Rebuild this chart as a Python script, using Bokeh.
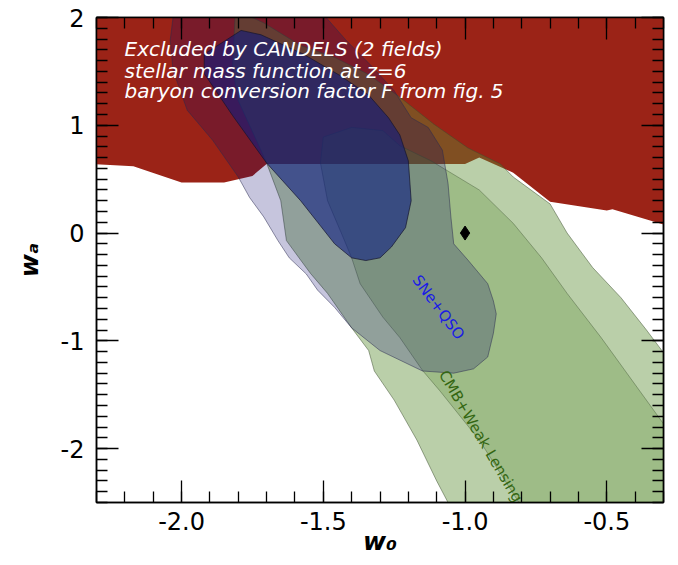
import numpy as np
from bokeh.plotting import figure
from bokeh.models import Range1d, LinearAxis, FixedTicker, Label, CustomJSTickFormatter
from bokeh.core.properties import value
from bokeh.embed import file_html
from bokeh.resources import INLINE

# ---- data (w0, wa) ----
x_major = [-2.0, -1.5, -1.0, -0.5]
y_major = [-2, -1, 0, 1, 2]
x_tick_labels = {-2.0: "-2.0", -1.5: "-1.5", -1.0: "-1.0", -0.5: "-0.5"}
y_tick_labels = {-2: "-2", -1: "-1", 0: "0", 1: "1", 2: "2"}
x_label = "w\u2080"
y_label = "w\u2090"

# excluded region (CANDELS)
red_x = [-2.40, -2.32, -2.17, -2.00, -1.85, -1.75, -1.70, -1.00, -0.95, -0.83, -0.70, -0.50, -0.48, -0.30, -0.20, -0.20, -2.40]
red_y = [0.64, 0.64, 0.62, 0.47, 0.47, 0.53, 0.64, 0.64, 0.70, 0.56, 0.29, 0.21, 0.22, 0.08, 0.02, 2.10, 2.10]

# SNe+QSO outer contour
sne2_x = [-2.03, -2.04, -2.03, -1.98, -1.89, -1.80, -1.76, -1.71, -1.66, -1.62, -1.56, -1.52, -1.46, -1.40, -1.30, -1.15,
          -1.04, -0.97, -0.92, -0.90, -0.89, -0.90, -0.92, -0.99, -1.04, -1.05, -1.06, -1.08, -1.13, -1.19, -1.25, -1.33,
          -1.42, -1.49, -1.47, -2.02]
sne2_y = [2.00, 1.79, 1.51, 1.14, 0.86, 0.52, 0.33, 0.15, -0.07, -0.23, -0.38, -0.53, -0.69, -0.88, -1.09, -1.28,
          -1.30, -1.26, -1.15, -0.93, -0.75, -0.63, -0.47, -0.25, -0.10, 0.15, 0.46, 0.77, 0.98, 1.07, 1.32, 1.55,
          1.79, 2.00, 2.10, 2.10]

# SNe+QSO inner contour
sne1_x = [-1.79, -1.72, -1.57, -1.44, -1.34, -1.27, -1.23, -1.20, -1.19, -1.21, -1.26, -1.30, -1.35, -1.40, -1.46,
          -1.52, -1.58, -1.70, -1.82, -1.92, -1.92]
sne1_y = [1.88, 1.84, 1.66, 1.46, 1.28, 1.07, 0.91, 0.67, 0.30, 0.05, -0.13, -0.23, -0.255, -0.23, -0.10,
          0.10, 0.30, 0.65, 1.09, 1.48, 1.66]

# CMB+Weak Lensing outer contour
cmb2_x = [-1.81, -1.71, -1.58, -1.46, -1.34, -1.23, -1.11, -0.99, -0.875, -0.83, -0.70, -0.64, -0.55, -0.45, -0.36,
          -0.30, -0.15, -0.15, -1.04, -1.06, -1.10, -1.17, -1.25, -1.32, -1.34, -1.40, -1.485, -1.545, -1.58, -1.63,
          -1.65, -1.70, -1.72, -1.80, -1.82]
cmb2_y = [2.07, 1.95, 1.74, 1.63, 1.47, 1.26, 1.01, 0.79, 0.64, 0.52, 0.27, 0.00, -0.32, -0.60, -0.90,
          -1.11, -1.30, -2.70, -2.70, -2.50, -2.30, -1.92, -1.55, -1.28, -1.09, -0.88, -0.56, -0.375, -0.25, -0.07,
          0.30, 0.65, 0.77, 1.23, 1.54]

# CMB+Weak Lensing inner contour
cmb1_x = [-1.50, -1.40, -1.29, -1.23, -1.12, -0.95, -0.83, -0.73, -0.64, -0.52, -0.30, -0.15, -0.15, -0.79, -0.81,
          -0.95, -1.09, -1.15, -1.23, -1.29, -1.37, -1.40, -1.43, -1.485, -1.51]
cmb1_y = [0.89, 0.98, 0.95, 0.81, 0.67, 0.40, 0.09, -0.23, -0.56, -0.97, -1.77, -2.00, -2.70, -2.70, -2.50,
          -1.92, -1.46, -1.275, -0.97, -0.78, -0.47, -0.23, -0.04, 0.30, 0.65]

lcdm_w0 = [-1.0]
lcdm_wa = [0.0]

excl_lines = ["Excluded by CANDELS (2 fields)",
              "stellar mass function at z=6",
              "baryon conversion factor F from fig. 5"]

# ---- figure ----
p = figure(frame_width=567, frame_height=485,
           x_range=Range1d(-2.3, -0.3), y_range=Range1d(-2.5, 2.0),
           output_backend="svg", toolbar_location=None,
           min_border_left=96, min_border_right=15, min_border_top=17, min_border_bottom=63,
           background_fill_color="white", border_fill_color="white")
p.xgrid.visible = False
p.ygrid.visible = False
p.outline_line_color = "black"
p.outline_line_width = 1.5

xt = FixedTicker(ticks=x_major, minor_ticks=list(np.round(np.arange(-2.3, -0.25, 0.1), 2)))
yt = FixedTicker(ticks=y_major, minor_ticks=list(np.round(np.arange(-2.5, 2.05, 0.1), 2)))
blank = CustomJSTickFormatter(code="return ''")


def style(ax, ticker, labels=None):
    ax.ticker = ticker
    ax.axis_line_color = "black"
    ax.axis_line_width = 1.5
    ax.major_tick_in = 22
    ax.major_tick_out = 0
    ax.minor_tick_in = 11
    ax.minor_tick_out = 0
    ax.major_tick_line_color = "black"
    ax.minor_tick_line_color = "black"
    ax.major_tick_line_width = 1.3
    ax.minor_tick_line_width = 1.3
    ax.major_label_text_font = "DejaVu Sans"
    ax.major_label_text_font_size = "24px"
    ax.major_label_text_color = "black"
    ax.axis_label_text_font = "DejaVu Sans"
    ax.axis_label_text_font_style = "bold italic"
    ax.axis_label_text_font_size = "25px"
    ax.axis_label_text_color = "black"
    if labels is None:
        ax.formatter = blank
        ax.major_label_standoff = 0
    else:
        ax.major_label_overrides = labels


style(p.xaxis[0], xt, x_tick_labels)
p.xaxis[0].major_label_standoff = 9
p.xaxis[0].axis_label = x_label
p.xaxis[0].axis_label_standoff = -6
style(p.yaxis[0], yt, y_tick_labels)
p.yaxis[0].major_label_standoff = 12
p.yaxis[0].axis_label = y_label
p.yaxis[0].axis_label_standoff = 14
top = LinearAxis()
style(top, xt)
p.add_layout(top, "above")
right = LinearAxis()
style(right, yt)
p.add_layout(right, "right")

# ---- regions ----
p.patch(red_x, red_y, fill_color="#9b2317", fill_alpha=1.0, line_color=None)
p.patch(cmb2_x, cmb2_y, fill_color=(90, 140, 50), fill_alpha=0.42,
        line_color="#3d4f30", line_alpha=0.5, line_width=1)
p.patch(cmb1_x, cmb1_y, fill_color=(90, 140, 50), fill_alpha=0.29,
        line_color="#3d4f30", line_alpha=0.4, line_width=1)
p.patch(sne2_x, sne2_y, fill_color=(10, 5, 110), fill_alpha=0.23,
        line_color="#2a2a50", line_alpha=0.5, line_width=1)
p.patch(sne1_x, sne1_y, fill_color=(10, 25, 130), fill_alpha=0.58,
        line_color="#15152e", line_alpha=0.7, line_width=1)

p.scatter(lcdm_w0, lcdm_wa, marker="diamond", size=14, color="black")

p.text(x=[-1.094], y=[-0.69], text=["SNe+QSO"], angle=-0.93,
       text_font=value("DejaVu Sans"), text_font_size="15px", text_color="#1a1ae6",
       text_align="center", text_baseline="middle")
p.text(x=[-0.945], y=[-1.887], text=["CMB+Weak Lensing"], angle=-1.04,
       text_font=value("DejaVu Sans"), text_font_size="15px", text_color="#336611",
       text_align="center", text_baseline="middle")

for ly, t in zip([1.712, 1.508, 1.314], excl_lines):
    p.add_layout(Label(x=-2.201, y=ly, text=t, text_font="DejaVu Sans", text_font_style="italic",
                       text_font_size="20px", text_color="white", text_baseline="alphabetic"))

open("out.html", "w").write(file_html(p, INLINE))
